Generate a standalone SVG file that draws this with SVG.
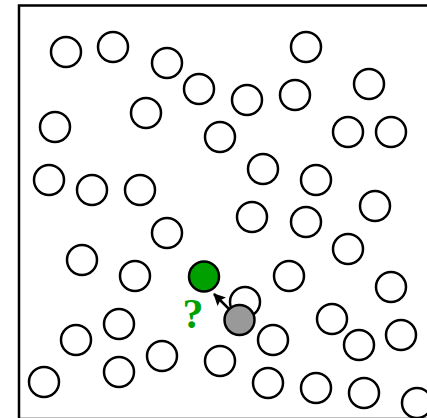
<svg xmlns="http://www.w3.org/2000/svg" width="427" height="418" viewBox="0 0 427 418">
<style>
.c{fill:#fff;stroke:#000;stroke-width:2.5}
.g{fill:#00a000;stroke:#000;stroke-width:2.5}
.k{fill:#999;stroke:#000;stroke-width:2.5}
</style>
<defs>
<marker id="ah" markerWidth="12" markerHeight="12" refX="11" refY="6" orient="auto" markerUnits="userSpaceOnUse">
<path d="M0,0 L12,6 L0,12 L2,6 Z" fill="#000"/>
</marker>
</defs>
<rect x="0" y="0" width="427" height="418" fill="#fff"/>
<rect x="19" y="5.5" width="420" height="413.5" fill="none" stroke="#000" stroke-width="2.5"/>
<g id="particles">
<circle class="c" cx="66" cy="52" r="15"/>
<circle class="c" cx="113" cy="47" r="15"/>
<circle class="c" cx="167" cy="63" r="15"/>
<circle class="c" cx="199" cy="89" r="15"/>
<circle class="c" cx="146" cy="113" r="15"/>
<circle class="c" cx="55" cy="127" r="15"/>
<circle class="c" cx="220" cy="137" r="15"/>
<circle class="c" cx="49" cy="180" r="15"/>
<circle class="c" cx="92" cy="190" r="15"/>
<circle class="c" cx="140" cy="190" r="15"/>
<circle class="c" cx="306" cy="47" r="15"/>
<circle class="c" cx="247" cy="100" r="15"/>
<circle class="c" cx="295" cy="95" r="15"/>
<circle class="c" cx="369" cy="84" r="15"/>
<circle class="c" cx="348" cy="132" r="15"/>
<circle class="c" cx="391" cy="132" r="15"/>
<circle class="c" cx="263" cy="169" r="15"/>
<circle class="c" cx="316" cy="180" r="15"/>
<circle class="c" cx="375" cy="206" r="15"/>
<circle class="c" cx="252" cy="217" r="15"/>
<circle class="c" cx="306" cy="222" r="15"/>
<circle class="c" cx="167" cy="233" r="15"/>
<circle class="c" cx="82" cy="260" r="15"/>
<circle class="c" cx="135" cy="276" r="15"/>
<circle class="c" cx="348" cy="249" r="15"/>
<circle class="c" cx="289" cy="276" r="15"/>
<circle class="c" cx="391" cy="287" r="15"/>
<circle class="c" cx="245" cy="302" r="15"/>
<circle class="c" cx="119" cy="324" r="15"/>
<circle class="c" cx="76" cy="340" r="15"/>
<circle class="c" cx="162" cy="356" r="15"/>
<circle class="c" cx="119" cy="372" r="15"/>
<circle class="c" cx="44" cy="382" r="15"/>
<circle class="c" cx="220" cy="361" r="15"/>
<circle class="c" cx="332" cy="319" r="15"/>
<circle class="c" cx="273" cy="340" r="15"/>
<circle class="c" cx="359" cy="345" r="15"/>
<circle class="c" cx="401" cy="335" r="15"/>
<circle class="c" cx="268" cy="383" r="15"/>
<circle class="c" cx="316" cy="388" r="15"/>
<circle class="c" cx="364" cy="393" r="15"/>
<circle class="c" cx="417" cy="403" r="15"/>
</g>
<g id="connectors">
<line x1="234" y1="314" x2="214" y2="294" stroke="#000" stroke-width="2.5" marker-end="url(#ah)"/>
</g>
<g id="target">
<circle class="g" cx="204" cy="276.5" r="15"/>
</g>
<g id="mover">
<circle class="k" cx="239.5" cy="320" r="15"/>
</g>
<g id="question">
<text x="193" y="328" text-anchor="middle" font-family="Liberation Serif, serif" font-weight="bold" font-size="42" fill="#00a000">?</text>
</g>
</svg>
